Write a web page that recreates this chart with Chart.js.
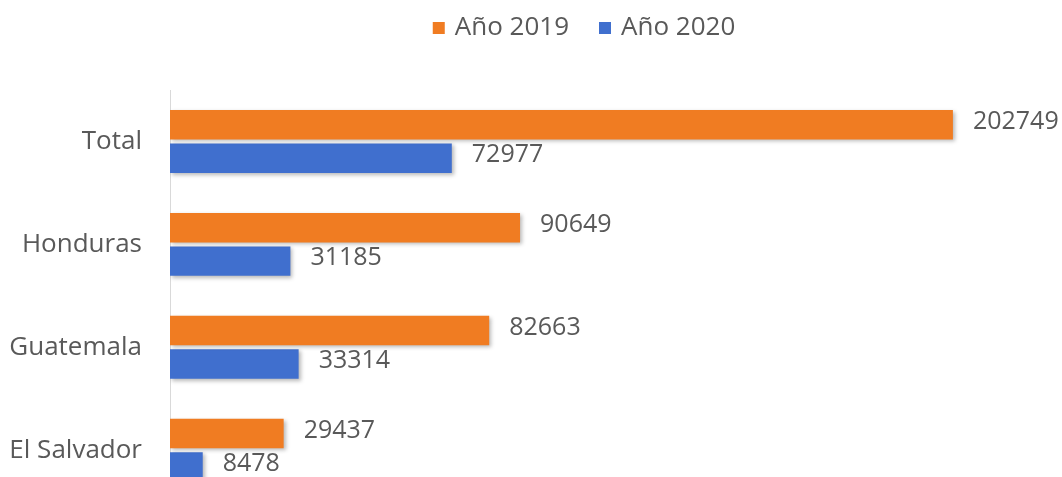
<!DOCTYPE html>
<html>
<head>
<meta charset="utf-8">
<script src="https://cdn.jsdelivr.net/npm/chart.js@4/dist/chart.umd.min.js"></script>
<style>
    html, body { margin: 0; padding: 0; background: #fff; overflow: hidden; width: 1062px; height: 477px; }
    canvas { display: block; }
</style>
</head>
<body>
<canvas id="myChart" width="1062" height="477"></canvas>
<script>
// datos del gráfico
const categorias = ['Total', 'Honduras', 'Guatemala', 'El Salvador'];
const anio2019 = [202749, 90649, 82663, 29437];
const anio2020 = [72977, 31185, 33314, 8478];
const etiquetasSeries = ['Año 2019', 'Año 2020'];

const colorNaranja = 'rgb(240, 124, 34)';
const colorAzul = 'rgb(64, 111, 206)';
const colorTexto = '#595959';
const fuente = '"Open Sans", "DejaVu Sans", sans-serif';

// el eje de categorías se hace lineal para poder recortar la última categoría como en el original
const puntos = serie => serie.map((v, i) => ({ x: v, y: i }));

// sombra suave debajo de las barras
const sombraBarras = {
    id: 'sombraBarras',
    beforeDatasetsDraw(chart) {
        const ctx = chart.ctx;
        ctx.save();
        ctx.shadowColor = 'rgba(0, 0, 0, 0.28)';
        ctx.shadowBlur = 4;
        ctx.shadowOffsetX = 2;
        ctx.shadowOffsetY = 2;
    },
    afterDatasetsDraw(chart) {
        chart.ctx.restore();
    }
};

// etiquetas de valor al final de cada barra
const etiquetasValor = {
    id: 'etiquetasValor',
    afterDatasetsDraw(chart) {
        const ctx = chart.ctx;
        ctx.save();
        ctx.font = '25px ' + fuente;
        ctx.fillStyle = colorTexto;
        ctx.textAlign = 'left';
        ctx.textBaseline = 'middle';
        chart.data.datasets.forEach((ds, i) => {
            const meta = chart.getDatasetMeta(i);
            meta.data.forEach((bar, j) => {
                ctx.fillText(String(ds.data[j].x), bar.x + 20, bar.y - 3);
            });
        });
        ctx.restore();
    }
};

// leyenda dibujada a mano (centrada sobre el área del gráfico)
const leyendaArriba = {
    id: 'leyendaArriba',
    afterDraw(chart) {
        const ctx = chart.ctx;
        ctx.save();
        ctx.font = '26px ' + fuente;
        ctx.textBaseline = 'middle';
        const caja = 12, sep = 10, entre = 30;
        const items = chart.data.datasets.map(ds => ({
            label: ds.label,
            color: ds.backgroundColor,
            w: caja + sep + ctx.measureText(ds.label).width
        }));
        const total = items.reduce((a, it) => a + it.w, 0) + entre * (items.length - 1);
        let x = 584 - total / 2;
        const y = 28;
        items.forEach(it => {
            ctx.fillStyle = it.color;
            ctx.fillRect(x, y - caja / 2, caja, caja);
            ctx.fillStyle = colorTexto;
            ctx.fillText(it.label, x + caja + sep, y);
            x += it.w + entre;
        });
        ctx.restore();
    }
};

new Chart(document.getElementById('myChart'), {
    type: 'bar',
    data: {
        datasets: [
            {
                label: etiquetasSeries[0],
                data: puntos(anio2019),
                backgroundColor: colorNaranja,
                categoryPercentage: 0.65,
                barPercentage: 0.88
            },
            {
                label: etiquetasSeries[1],
                data: puntos(anio2020),
                backgroundColor: colorAzul,
                categoryPercentage: 0.65,
                barPercentage: 0.88
            }
        ]
    },
    options: {
        indexAxis: 'y',
        responsive: false,
        animation: false,
        layout: { padding: { top: 90, right: 0, bottom: 0, left: 0 } },
        plugins: {
            legend: { display: false },
            tooltip: { enabled: false }
        },
        scales: {
            x: {
                type: 'linear',
                display: false,
                min: 0,
                max: 231000
            },
            y: {
                type: 'linear',
                reverse: true,
                offset: false,
                bounds: 'data',
                min: -0.5,
                max: 3.26,   // la parte baja del gráfico queda cortada
                grid: { display: false, drawTicks: false, offset: false },
                border: { display: true, color: '#d9d9d9', width: 1 },
                ticks: {
                    autoSkip: false,
                    color: colorTexto,
                    font: { family: fuente, size: 26 },
                    padding: 28,
                    callback: v => categorias[v]
                },
                afterBuildTicks(scale) {
                    scale.ticks = categorias.map((c, i) => ({ value: i }));
                },
                afterFit(scale) {
                    scale.width = 170;
                    scale.paddingTop = 0;
                    scale.paddingBottom = 0;
                }
            }
        }
    },
    plugins: [sombraBarras, etiquetasValor, leyendaArriba]
});
</script>
</body>
</html>
